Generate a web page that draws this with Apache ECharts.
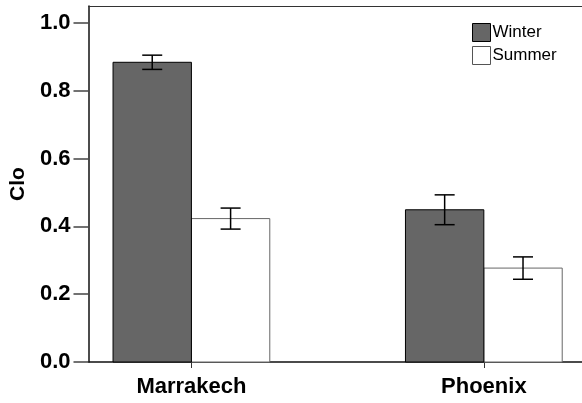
<!DOCTYPE html>
<html>
<head>
<meta charset="utf-8">
<script src="https://cdn.jsdelivr.net/npm/echarts@6/dist/echarts.min.js"></script>
<style>
html,body{margin:0;padding:0;background:#fff;}
#chart{width:582px;height:403px;}
</style>
</head>
<body>
<div id="chart"></div>
<script>
const categories = ['Marrakech', 'Phoenix'];
const seriesNames = ['Winter', 'Summer'];
const winterValues = [0.884, 0.449];
const winterErrors = [0.021, 0.044];
const summerValues = [0.423, 0.277];
const summerErrors = [0.031, 0.033];
const yTicks = [0, 0.2, 0.4, 0.6, 0.8, 1.0];
const categoryPositions = [0, 1];

const BAR_W = 0.268;
const FONT = '"Liberation Sans", Arial, sans-serif';

function makeRender(x0, x1, fill, stroke) {
  return function (params, api) {
    const i = api.value(0), v = api.value(1), e = api.value(2);
    const tl = api.coord([i + x0, v]);
    const br = api.coord([i + x1, 0]);
    const cx = i + (x0 + x1) / 2;
    const top = api.coord([cx, v + e]);
    const bot = api.coord([cx, v - e]);
    const cap = 10;
    return {
      type: 'group',
      children: [
        { type: 'rect', shape: { x: tl[0], y: tl[1], width: br[0] - tl[0], height: br[1] - tl[1] },
          style: { fill: fill, stroke: stroke, lineWidth: 1 } },
        { type: 'line', shape: { x1: top[0], y1: top[1], x2: bot[0], y2: bot[1] }, style: { stroke: '#000', lineWidth: 1.5 } },
        { type: 'line', shape: { x1: top[0] - cap, y1: top[1], x2: top[0] + cap, y2: top[1] }, style: { stroke: '#000', lineWidth: 1.5 } },
        { type: 'line', shape: { x1: bot[0] - cap, y1: bot[1], x2: bot[0] + cap, y2: bot[1] }, style: { stroke: '#000', lineWidth: 1.5 } }
      ]
    };
  };
}

const winterData = categoryPositions.map((p, k) => [p, winterValues[k], winterErrors[k]]);
const summerData = categoryPositions.map((p, k) => [p, summerValues[k], summerErrors[k]]);

const chart = echarts.init(document.getElementById('chart'), null, { renderer: 'canvas' });
chart.setOption({
  animation: false,
  backgroundColor: '#fff',
  grid: { left: 88, top: 6, right: 0, bottom: 41 },
  legend: {
    orient: 'vertical', left: 472, top: 23, padding: 0, itemWidth: 18, itemHeight: 18, itemGap: 4,
    textStyle: { fontFamily: FONT, fontSize: 17, color: '#000', padding: [0,0,0,-3] },
    data: [
      { name: 'Winter', icon: 'rect', itemStyle: { color: '#666', borderColor: '#000', borderWidth: 1 } },
      { name: 'Summer', icon: 'rect', itemStyle: { color: '#fff', borderColor: '#555', borderWidth: 1 } }
    ]
  },
  xAxis: [{
    type: 'value', min: -0.352, max: 1.3357, position: 'bottom',
    splitLine: { show: false },
    axisLine: { show: true, onZero: false, lineStyle: { color: '#111', width: 1.5 } },
    axisTick: { show: true, customValues: categoryPositions, length: 6, lineStyle: { color: '#333', width: 1 } },
    axisLabel: { customValues: categoryPositions, margin: 14, formatter: v => categories[Math.round(v)],
      fontFamily: FONT, fontWeight: 'bold', fontSize: 22, color: '#000' }
  }, {
    type: 'value', min: -0.352, max: 1.3357, position: 'top',
    splitLine: { show: false },
    axisLine: { show: true, onZero: false, lineStyle: { color: '#333', width: 1 } },
    axisTick: { show: false }, axisLabel: { show: false }
  }],
  yAxis: {
    type: 'value', min: 0, max: 1.05,
    name: 'Clo', nameLocation: 'middle', nameGap: 58, nameRotate: 90,
    nameTextStyle: { fontFamily: FONT, fontWeight: 'bold', fontSize: 21, color: '#000' },
    splitLine: { show: false },
    axisLine: { show: true, onZero: false, lineStyle: { color: '#111', width: 1.5 } },
    axisTick: { show: true, customValues: yTicks, length: 15, lineStyle: { color: '#444', width: 1.5 } },
    axisLabel: { customValues: yTicks, margin: 18, formatter: v => v.toFixed(1),
      fontFamily: FONT, fontWeight: 'bold', fontSize: 22, color: '#000' }
  },
  series: [
    { name: 'Summer', type: 'custom', itemStyle: { color: '#fff' },
      renderItem: makeRender(0, BAR_W, '#fff', '#666'), data: summerData, z: 2 },
    { name: 'Winter', type: 'custom', itemStyle: { color: '#666' },
      renderItem: makeRender(-BAR_W, 0, '#666', '#000'), data: winterData, z: 3 }
  ]
});
</script>
</body>
</html>
